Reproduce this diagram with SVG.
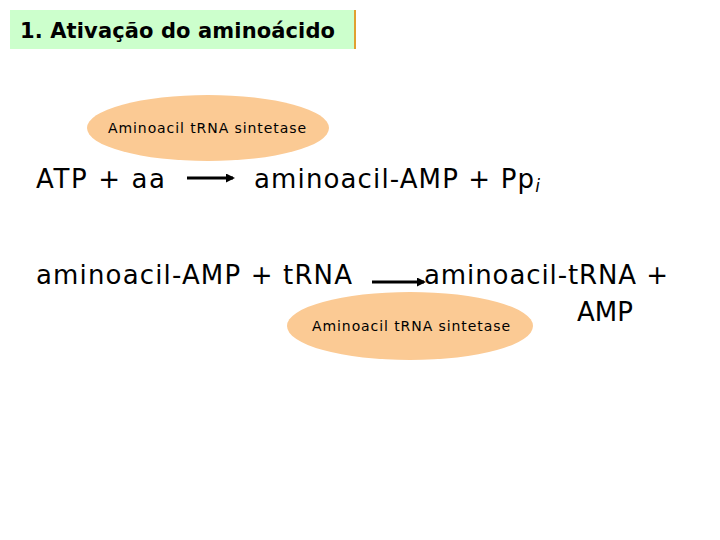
<svg xmlns="http://www.w3.org/2000/svg" width="720" height="540" viewBox="0 0 720 540">
<style>
.eq{font-family:"DejaVu Sans",Verdana,sans-serif;font-size:26px;fill:#000}
.enz{font-family:"DejaVu Sans",Verdana,sans-serif;font-size:14px;fill:#000}
.ell{fill:#fbca94}
.arr{stroke:#000;stroke-width:3;fill:none}
</style>
<defs>
<marker id="ah" markerWidth="9" markerHeight="9" refX="7" refY="4.5" orient="auto" markerUnits="userSpaceOnUse">
<path d="M0,0 L9,4.5 L0,9 Z" fill="#000"/>
</marker>
</defs>
<rect width="720" height="540" fill="#fff"/>
<g id="title">
<rect x="10" y="10" width="345" height="39" fill="#ccffcc"/>
<line x1="355" y1="10" x2="355" y2="49" stroke="#e0a030" stroke-width="2"/>
<text x="20" y="38" font-family="DejaVu Sans,Verdana,sans-serif" font-size="21" font-weight="bold" textLength="315" lengthAdjust="spacing">1. Ativação do aminoácido</text>
</g>
<g id="enzyme1">
<ellipse class="ell" cx="208" cy="128" rx="121" ry="33"/>
<text class="enz" x="108" y="133" textLength="198" lengthAdjust="spacing">Aminoacil tRNA sintetase</text>
</g>
<g id="eq1-left"><text class="eq" x="36" y="188" textLength="129" lengthAdjust="spacing">ATP + aa</text></g>
<g id="eq1-right"><text class="eq" x="254" y="188"><tspan textLength="280" lengthAdjust="spacing">aminoacil-AMP + Pp</tspan><tspan font-size="17" font-style="italic" dy="4">i</tspan></text></g>
<g id="eq2-left"><text class="eq" x="36" y="284" textLength="316" lengthAdjust="spacing">aminoacil-AMP + tRNA</text></g>
<g id="eq2-right"><text class="eq" x="424" y="284" textLength="244" lengthAdjust="spacing">aminoacil-tRNA +</text><text class="eq" x="577" y="321">AMP</text></g>
<g id="enzyme2">
<ellipse class="ell" cx="410" cy="326" rx="123" ry="34"/>
<text class="enz" x="312" y="331" textLength="198" lengthAdjust="spacing">Aminoacil tRNA sintetase</text>
</g>
<g id="connectors">
<line class="arr" x1="187" y1="178" x2="233" y2="178" marker-end="url(#ah)"/>
<line class="arr" x1="372" y1="282" x2="424" y2="282" marker-end="url(#ah)"/>
</g>
</svg>
